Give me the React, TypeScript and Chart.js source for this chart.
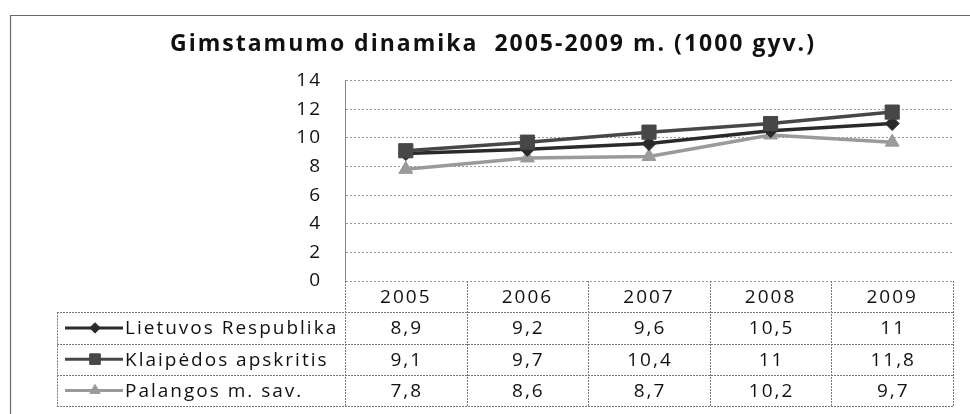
import React, { useEffect, useRef } from "react";
import { Chart, registerables } from "chart.js";
import { drawPoint } from "chart.js/helpers";

Chart.register(...registerables);

// ---- data ----
const categories = ["2005", "2006", "2007", "2008", "2009"];
const seriesNames = ["Lietuvos Respublika", "Klaipėdos apskritis", "Palangos m. sav."];
const lietuvos = [8.9, 9.2, 9.6, 10.5, 11];
const klaipedos = [9.1, 9.7, 10.4, 11, 11.8];
const palangos = [7.8, 8.6, 8.7, 10.2, 9.7];
const yMin = 0;
const yMax = 14;
const yStep = 2;
const titleText = "Gimstamumo dinamika  2005-2009 m. (1000 gyv.)";

const seriesValues = [lietuvos, klaipedos, palangos];
const seriesColors = ["#2a2a2a", "#474747", "#9a9a9a"];
const seriesStyles = ["rectRot", "rect", "triangle"];
const seriesRadius = [7, 10, 8];

const FONT = "'Open Sans', 'DejaVu Sans', sans-serif";
const fmt = (v: number) => String(v).replace(".", ",");

const tablePlugin = {
  id: "dataTable",
  beforeDraw(chart: any) {
    const ctx = chart.ctx;
    ctx.save();
    ctx.strokeStyle = "#6a6a6a";
    ctx.lineWidth = 1.2;
    ctx.beginPath();
    ctx.moveTo(10.5, 414);
    ctx.lineTo(10.5, 15.5);
    ctx.lineTo(970, 15.5);
    ctx.stroke();
    ctx.restore();
    ctx.letterSpacing = "2px";
  },
  afterDraw(chart: any) {
    const { ctx, chartArea, scales } = chart;
    const xs = scales.x;
    const top = chartArea.bottom;
    const bottom = xs.bottom;
    const rowH = (bottom - top) / (seriesNames.length + 1);
    const half = (xs.getPixelForValue(1) - xs.getPixelForValue(0)) / 2;
    const left = xs.getPixelForValue(0) - half;
    const right = xs.getPixelForValue(categories.length - 1) + half;
    const labelLeft = 57;

    ctx.save();
    ctx.strokeStyle = "#7a7a7a";
    ctx.lineWidth = 1;
    ctx.setLineDash([2, 1]);
    ctx.beginPath();
    for (let r = 1; r <= seriesNames.length + 1; r++) {
      const y = Math.round(top + r * rowH) + 0.5;
      ctx.moveTo(labelLeft, y);
      ctx.lineTo(right, y);
    }
    for (let i = 0; i <= categories.length; i++) {
      const xx = Math.round(left + i * 2 * half) + 0.5;
      ctx.moveTo(xx, top);
      ctx.lineTo(xx, bottom);
    }
    ctx.moveTo(labelLeft + 0.5, top + rowH);
    ctx.lineTo(labelLeft + 0.5, bottom);
    ctx.stroke();
    ctx.setLineDash([]);

    ctx.font = `19px ${FONT}`;
    ctx.letterSpacing = "2px";
    ctx.textBaseline = "middle";
    seriesNames.forEach((name, s) => {
      const cy = top + (s + 1.5) * rowH;
      // legend sample
      ctx.strokeStyle = seriesColors[s];
      ctx.fillStyle = seriesColors[s];
      ctx.lineWidth = 3;
      ctx.beginPath();
      ctx.moveTo(labelLeft + 8, cy);
      ctx.lineTo(labelLeft + 66, cy);
      ctx.stroke();
      ctx.lineWidth = 1;
      drawPoint(ctx, { pointStyle: seriesStyles[s], radius: seriesRadius[s] * 0.75, rotation: 0, borderWidth: 1 }, labelLeft + 38, cy);
      ctx.fillStyle = "#111";
      ctx.textAlign = "left";
      ctx.fillText(name, labelLeft + 68, cy + 1);
      ctx.textAlign = "center";
      seriesValues[s].forEach((v, i) => {
        ctx.fillText(fmt(v), xs.getPixelForValue(i) + 1, cy + 1);
      });
    });
    ctx.restore();
  },
};

export default function App() {
  const ref = useRef<HTMLCanvasElement | null>(null);
  useEffect(() => {
    document.body.style.margin = "0";
    if (!ref.current) return;
    const chart = new Chart(ref.current, {
      type: "line",
      data: {
        labels: categories,
        datasets: seriesNames.map((name, s) => ({
          label: name,
          data: seriesValues[s],
          borderColor: seriesColors[s],
          backgroundColor: seriesColors[s],
          borderWidth: 3.5,
          pointStyle: seriesStyles[s] as any,
          pointRadius: seriesRadius[s],
          pointBorderWidth: 1,
          pointBackgroundColor: seriesColors[s],
          pointBorderColor: seriesColors[s],
          tension: 0,
          order: s === 1 ? 0 : s === 0 ? 1 : 2,
        })),
      },
      options: {
        animation: false,
        responsive: true,
        maintainAspectRatio: false,
        layout: { padding: { left: 33, right: 17, top: 0, bottom: 8 } },
        plugins: {
          legend: { display: false },
          tooltip: { enabled: false },
          title: {
            display: true,
            text: titleText,
            color: "#111",
            font: { family: FONT, size: 23, weight: "bold" },
            padding: { top: 31, bottom: 22 },
          },
        },
        scales: {
          x: {
            type: "category",
            offset: true,
            grid: { display: false, drawTicks: false },
            border: { display: false },
            ticks: { color: "#111", font: { family: FONT, size: 19 }, padding: 5, maxRotation: 0 },
            afterFit: (scale: any) => {
              scale.height = 125;
            },
          },
          y: {
            min: yMin,
            max: yMax,
            ticks: { stepSize: yStep, color: "#111", font: { family: FONT, size: 19 }, padding: 23 },
            grid: { color: "#9a9a9a", drawTicks: false },
            border: { color: "#8a8a8a", dash: [2, 2] },
            afterFit: (scale: any) => {
              scale.width = 312;
            },
          },
        },
      },
      plugins: [tablePlugin],
    });
    return () => chart.destroy();
  }, []);
  return (
    <div style={{ position: "relative", width: 970, height: 414 }}>
      <canvas ref={ref} />
    </div>
  );
}
